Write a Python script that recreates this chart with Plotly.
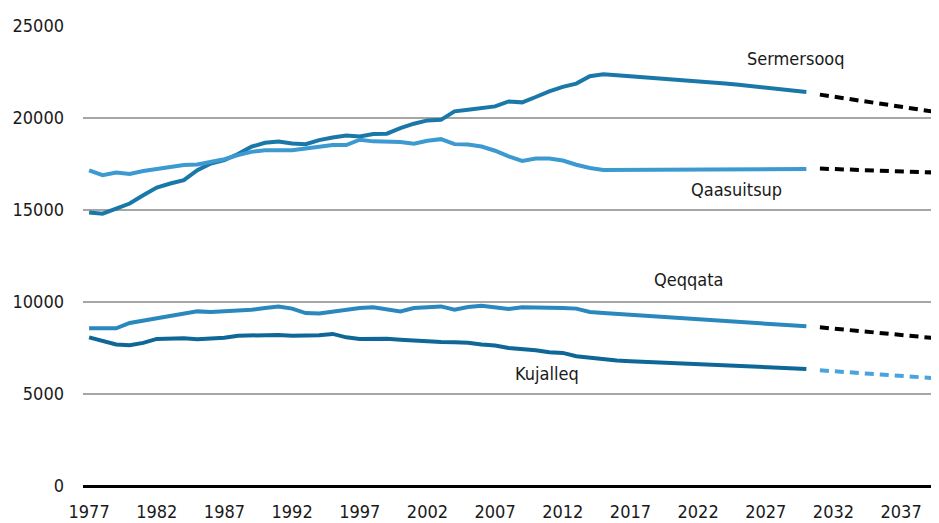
import plotly.graph_objects as go

years_hist = list(range(1977, 2031))
years_proj = list(range(2031, 2041))

sermersooq = [14860, 14800, 15075, 15350, 15800, 16220, 16440, 16620, 17160, 17530,
              17710, 18040, 18440, 18650, 18720, 18620, 18580, 18800, 18940, 19050,
              19000, 19130, 19150, 19450, 19690, 19870, 19900, 20360, 20450, 20545,
              20630, 20900, 20850, 21140, 21450, 21690, 21870, 22270, 22380, 22320,
              22270, 22220, 22170, 22120, 22070, 22010, 21950, 21880, 21810, 21740,
              21670, 21590, 21500, 21410]
qaasuitsup = [17160, 16890, 17040, 16960, 17120, 17220, 17340, 17450, 17470, 17610,
              17760, 17980, 18160, 18250, 18270, 18250, 18340, 18430, 18530, 18530,
              18820, 18730, 18730, 18690, 18600, 18760, 18850, 18580, 18560, 18450,
              18220, 17910, 17670, 17800, 17800, 17690, 17460, 17280, 17180, 17180,
              17180, 17180, 17180, 17190, 17200, 17200, 17210, 17220, 17230, 17230,
              17230, 17230, 17230, 17230]
qeqqata = [8570, 8570, 8570, 8860, 8985, 9110, 9220, 9400, 9490, 9460,
           9490, 9545, 9580, 9670, 9760, 9640, 9400, 9380, 9475, 9620,
           9670, 9710, 9580, 9490, 9670, 9710, 9760, 9580, 9730, 9800,
           9710, 9620, 9710, 9710, 9710, 9670, 9640, 9460, 9400, 9350,
           9295, 9250, 9210, 9170, 9120, 9070, 9020, 8960, 8910, 8860,
           8810, 8760, 8720, 8680]
kujalleq = [8080, 7865, 7690, 7650, 7780, 7995, 7995, 8030, 7975, 7995,
            8060, 8170, 8190, 8210, 8210, 8170, 8155, 8190, 8265, 8080,
            7995, 8010, 8000, 7955, 7900, 7845, 7830, 7810, 7780, 7690,
            7630, 7505, 7450, 7380, 7270, 7235, 7050, 6960, 6870, 6820,
            6780, 6750, 6730, 6690, 6660, 6630, 6600, 6560, 6530, 6500,
            6470, 6440, 6400, 6360]

sermersooq_proj = [21270, 21160, 21050, 20940, 20830, 20720, 20610, 20500, 20390, 20280]
qaasuitsup_proj = [17250, 17225, 17200, 17175, 17150, 17125, 17100, 17075, 17050, 17025]
qeqqata_proj = [8625, 8555, 8485, 8415, 8345, 8280, 8210, 8140, 8070, 8000]
kujalleq_proj = [6290, 6240, 6190, 6140, 6090, 6040, 5990, 5940, 5890, 5830]

tick_years = list(range(1977, 2038, 5))
y_ticks = [0, 5000, 10000, 15000, 20000, 25000]

labels = ["Sermersooq", "Qaasuitsup", "Qeqqata", "Kujalleq"]
label_x = [2029.2, 2024.8, 2021.3, 2010.8]
label_y = [23260, 16140, 11200, 6140]

FONT = "DejaVu Sans Condensed, sans-serif"
TXT = "#1a1a1a"

fig = go.Figure()

hist = [
    (sermersooq, "#1a78a8"),
    (qaasuitsup, "#3d9ad1"),
    (qeqqata, "#2a88bf"),
    (kujalleq, "#0e6796"),
]
proj = [
    (sermersooq_proj, "#000000"),
    (qaasuitsup_proj, "#000000"),
    (qeqqata_proj, "#000000"),
    (kujalleq_proj, "#4aa3dc"),
]
for vals, col in hist:
    fig.add_trace(go.Scatter(x=years_hist, y=vals, mode="lines",
                             line=dict(color=col, width=4), showlegend=False,
                             hoverinfo="skip"))
for vals, col in proj:
    fig.add_trace(go.Scatter(x=years_proj, y=vals, mode="lines",
                             line=dict(color=col, width=4, dash="9px,6px"),
                             showlegend=False, hoverinfo="skip"))

for t, x, y in zip(labels, label_x, label_y):
    fig.add_annotation(x=x, y=y, text=t, showarrow=False,
                       font=dict(family=FONT, size=18, color=TXT))

# the page body adds an 8px offset, so the figure is sized to fill the rest
fig.update_layout(
    width=931, height=515,
    margin=dict(l=75, r=0, t=18, b=37),
    plot_bgcolor="white", paper_bgcolor="white",
    font=dict(family=FONT, size=18, color=TXT),
    xaxis=dict(range=[1976.55, 2039.8], tickvals=tick_years,
               ticktext=[str(v) for v in tick_years],
               showgrid=False, zeroline=False, showline=False, ticks="",
               ticklabelstandoff=13, automargin=False, fixedrange=True),
    yaxis=dict(range=[0, 25000], tickvals=y_ticks,
               ticktext=[str(v) for v in y_ticks],
               showgrid=True, gridcolor="#a6a6a6", gridwidth=1.5,
               zeroline=True, zerolinecolor="#000000", zerolinewidth=3,
               showline=False, ticks="", ticklabelstandoff=18,
               automargin=False, fixedrange=True),
)

fig.write_html("out.html")
